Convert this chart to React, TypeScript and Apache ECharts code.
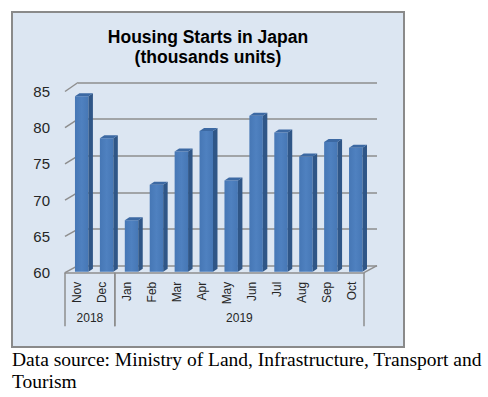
import React, { useEffect, useRef } from "react";
import * as echarts from "echarts";

const categories = ["Nov", "Dec", "Jan", "Feb", "Mar", "Apr", "May", "Jun", "Jul", "Aug", "Sep", "Oct"];
const starts = [84.2, 78.4, 67.1, 72.0, 76.6, 79.4, 72.6, 81.5, 79.2, 75.9, 77.9, 77.1];
const yearLabels = ["2018", "2019"];
const yearFirst = [0, 2];
const yearLast = [1, 11];
const yTicks = [60, 65, 70, 75, 80, 85];
const titleText = "Housing Starts in Japan\n(thousands units)";
const captionText = "Data source: Ministry of Land, Infrastructure, Transport and\nTourism";

const SANS = "'Liberation Sans', Arial, sans-serif";
const SERIF = "'Liberation Serif', 'Times New Roman', serif";
const GRID_GRAY = "#8e8e8e";
const Y_MIN = 60;
const Y_MAX = 85;

export default function App() {
  const ref = useRef<HTMLDivElement>(null);

  useEffect(() => {
    if (!ref.current) return;
    const chart = echarts.init(ref.current, undefined, { renderer: "svg" });

    const option: any = {
      animation: false,
      backgroundColor: "#ffffff",
      grid: [
        { left: 65, top: 91.5, width: 299, height: 181.2 },
        { left: 78, top: 82.5, width: 299, height: 183.2 },
      ],
      xAxis: [
        {
          gridIndex: 0,
          type: "category",
          data: categories,
          axisLine: { show: true, lineStyle: { color: GRID_GRAY, width: 1.5 } },
          axisTick: { show: false },
          axisLabel: { rotate: 90, margin: 9, fontSize: 12, color: "#262626", fontFamily: SANS },
          splitLine: { show: false },
        },
        { gridIndex: 1, type: "category", data: categories, show: false },
      ],
      yAxis: [
        {
          gridIndex: 0,
          type: "value",
          min: Y_MIN,
          max: Y_MAX,
          interval: 5,
          axisLine: { show: false },
          axisTick: { show: false },
          splitLine: { show: false },
          axisLabel: { fontSize: 15, margin: 15, color: "#262626", fontFamily: SANS },
        },
        {
          gridIndex: 1,
          type: "value",
          min: Y_MIN,
          max: Y_MAX,
          interval: 5,
          axisLine: { show: false },
          axisTick: { show: false },
          axisLabel: { show: false },
          splitLine: { show: true, lineStyle: { color: GRID_GRAY, width: 1.5 } },
        },
      ],
      graphic: [
        {
          type: "rect",
          z: -100,
          silent: true,
          shape: { x: 12, y: 12, width: 392, height: 335 },
          style: { fill: "#dce6f2", stroke: "#8a8a8a", lineWidth: 2 },
        },
        {
          type: "text",
          z: 10,
          x: 208,
          y: 26.5,
          style: {
            text: titleText,
            font: `bold 17.5px ${SANS}`,
            fill: "#000000",
            align: "center",
            verticalAlign: "top",
            lineHeight: 20,
          },
        },
        {
          type: "text",
          z: 10,
          x: 12,
          y: 348,
          style: {
            text: captionText,
            font: `19.5px ${SERIF}`,
            fill: "#000000",
            align: "left",
            verticalAlign: "top",
            lineHeight: 22.5,
          },
        },
      ],
      series: [
        {
          type: "custom",
          name: "walls",
          xAxisIndex: 1,
          yAxisIndex: 1,
          clip: false,
          z: 1,
          data: yTicks.map((v) => [0, v]),
          renderItem: (params: any, api: any) => {
            const v = api.value(1);
            const band = api.size([1, 0])[0];
            const back = api.coord([0, v]);
            const bx = back[0] - band / 2;
            const by = back[1];
            const off = 7 + ((v - Y_MIN) / (Y_MAX - Y_MIN)) * 2;
            const children: any[] = [
              {
                type: "line",
                shape: { x1: bx - 13, y1: by + off, x2: bx, y2: by },
                style: { stroke: GRID_GRAY, lineWidth: 1.5 },
              },
            ];
            if (v === Y_MIN) {
              const r = api.coord([categories.length - 1, v]);
              const rx = r[0] + band / 2;
              children.push({
                type: "line",
                shape: { x1: rx - 13, y1: r[1] + off, x2: rx, y2: r[1] },
                style: { stroke: GRID_GRAY, lineWidth: 1.5 },
              });
            }
            return { type: "group", children };
          },
        },
        {
          type: "custom",
          name: "Housing starts",
          xAxisIndex: 0,
          yAxisIndex: 0,
          clip: false,
          z: 3,
          data: starts.map((v, i) => [i, v]),
          renderItem: (params: any, api: any) => {
            const i = api.value(0);
            const v = api.value(1);
            const top = api.coord([i, v]);
            const base = api.coord([i, Y_MIN]);
            const band = api.size([1, 0])[0];
            const w = band * 0.54;
            const shift = band * 0.17;
            const x0 = top[0] + shift - w / 2;
            const x1 = x0 + w;
            const yT = top[1] - 1;
            const yB = base[1] - 1;
            const dx = band * 0.18;
            const dy = -3;
            return {
              type: "group",
              children: [
                {
                  type: "rect",
                  shape: { x: x0, y: yT, width: w, height: yB - yT },
                  style: {
                    fill: new echarts.graphic.LinearGradient(0, 0, 1, 0, [
                      { offset: 0, color: "#4677b5" },
                      { offset: 0.5, color: "#4f81c0" },
                      { offset: 1, color: "#4677b5" },
                    ]),
                  },
                },
                {
                  type: "polygon",
                  shape: { points: [[x1, yT], [x1 + dx, yT + dy], [x1 + dx, yB + dy], [x1, yB]] },
                  style: { fill: "#2f5687" },
                },
                {
                  type: "polygon",
                  shape: { points: [[x0, yT], [x1, yT], [x1 + dx, yT + dy], [x0 + dx, yT + dy]] },
                  style: { fill: "#3c69a3" },
                },
              ],
            };
          },
        },
        {
          type: "custom",
          name: "years",
          xAxisIndex: 0,
          yAxisIndex: 0,
          clip: false,
          z: 3,
          data: yearLabels.map((y, k) => [yearFirst[k], yearLast[k]]),
          renderItem: (params: any, api: any) => {
            const idx = params.dataIndex;
            const first = api.value(0);
            const last = api.value(1);
            const band = api.size([1, 0])[0];
            const a = api.coord([first, Y_MIN]);
            const b = api.coord([last, Y_MIN]);
            const left = a[0] - band / 2;
            const right = b[0] + band / 2;
            const y0 = a[1];
            return {
              type: "group",
              children: [
                { type: "line", shape: { x1: left, y1: y0, x2: left, y2: y0 + 53.5 }, style: { stroke: GRID_GRAY, lineWidth: 1.5 } },
                { type: "line", shape: { x1: right, y1: y0, x2: right, y2: y0 + 53.5 }, style: { stroke: GRID_GRAY, lineWidth: 1.5 } },
                {
                  type: "text",
                  x: (left + right) / 2,
                  y: y0 + 45,
                  style: {
                    text: yearLabels[idx],
                    font: `12px ${SANS}`,
                    fill: "#262626",
                    align: "center",
                    verticalAlign: "middle",
                  },
                },
              ],
            };
          },
        },
      ],
    };

    chart.setOption(option);
    return () => chart.dispose();
  }, []);

  return (
    <div style={{ position: "absolute", left: 0, top: 0, width: 488, height: 397, background: "#ffffff" }}>
      <div ref={ref} style={{ width: 488, height: 397 }} />
    </div>
  );
}
